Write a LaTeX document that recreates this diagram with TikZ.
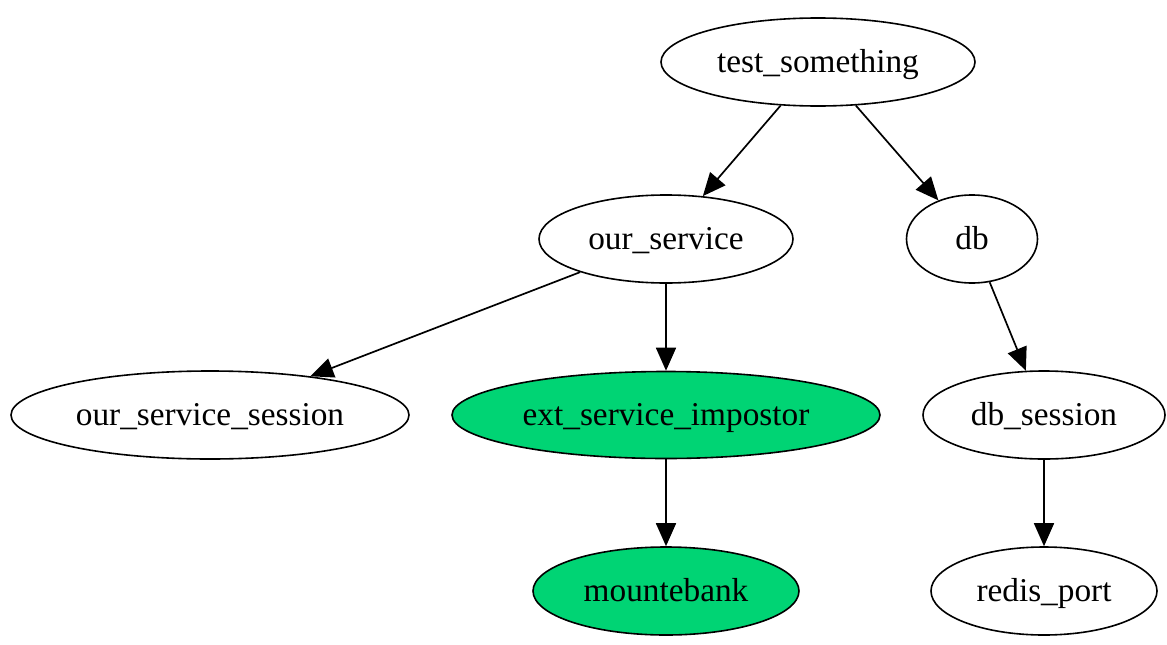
\documentclass[tikz,border=0pt]{standalone}
\usepackage{fontspec}
\setmainfont{Liberation Serif}
\usetikzlibrary{shapes.geometric,arrows.meta}
\definecolor{nodegreen}{RGB}{0,212,116}
\begin{document}
\begin{tikzpicture}[x=1pt,y=-1pt,
  gv/.style={ellipse,draw=black,line width=1.6pt,inner sep=0pt,
    text height=24pt,text depth=4pt,
    font=\fontsize{33.3}{40}\selectfont},
  gvgreen/.style={gv,fill=nodegreen},
  edge/.style={line width=1.7pt,-{Triangle[length=23pt,width=20pt]}}]
\useasboundingbox (0,0) rectangle (1167,645);
\node[gv,minimum width=314pt,minimum height=88pt] (ts) at (818,62) {test\_something};
\node[gv,minimum width=254pt,minimum height=88pt] (os) at (666,239) {our\_service};
\node[gv,minimum width=131pt,minimum height=88pt] (db) at (972,239) {db};
\node[gv,minimum width=398pt,minimum height=88pt] (oss) at (210,415) {our\_service\_session};
\node[gvgreen,minimum width=428pt,minimum height=87pt] (ext) at (666,415) {ext\_service\_impostor};
\node[gv,minimum width=242pt,minimum height=88pt] (dbs) at (1044,415) {db\_session};
\node[gvgreen,minimum width=266pt,minimum height=88pt] (mb) at (666,591) {mountebank};
\node[gv,minimum width=226pt,minimum height=88pt] (rp) at (1044,591) {redis\_port};
\draw[edge] (ts) -- (os);
\draw[edge] (ts) -- (db);
\draw[edge] (os) -- (oss);
\draw[edge] (os) -- (ext);
\draw[edge] (db) -- (dbs);
\draw[edge] (ext) -- (mb);
\draw[edge] (dbs) -- (rp);
\end{tikzpicture}
\end{document}
